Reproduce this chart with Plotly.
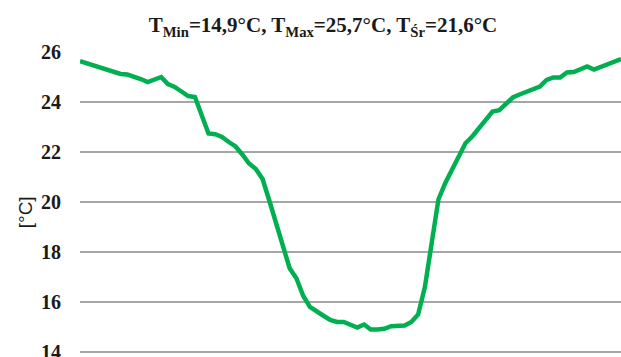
import plotly.graph_objects as go

# Temperature readings (°C), equally spaced samples
temps = [25.63, 25.55, 25.45, 25.35, 25.30, 25.22, 25.12, 25.10, 25.02, 24.92,
         24.80, 24.90, 25.00, 24.72, 24.60, 24.42, 24.24, 24.20, 23.40, 22.74,
         22.71, 22.60, 22.40, 22.22, 21.90, 21.54, 21.32, 20.92, 20.05, 19.10,
         18.20, 17.35, 16.95, 16.25, 15.80, 15.65, 15.45, 15.28, 15.20, 15.20,
         15.08, 14.98, 15.10, 14.90, 14.90, 14.93, 15.03, 15.03, 15.06, 15.20,
         15.50, 16.60, 18.50, 20.10, 20.75, 21.30, 21.80, 22.35, 22.62, 22.95,
         23.30, 23.62, 23.67, 23.90, 24.18, 24.30, 24.40, 24.50, 24.62, 24.88,
         24.98, 24.98, 25.18, 25.20, 25.30, 25.42, 25.30, 25.40, 25.50, 25.60,
         25.72]
samples = list(range(len(temps)))
y_ticks = [14, 16, 18, 20, 22, 24, 26]
title_text = "T<sub>Min</sub>=14,9°C, T<sub>Max</sub>=25,7°C, T<sub>Śr</sub>=21,6°C"
y_title = "[°C]"

fig = go.Figure()
fig.add_trace(go.Scatter(x=samples, y=temps, mode="lines",
                         line=dict(color="#00b050", width=4.5),
                         hoverinfo="skip", showlegend=False))

fig.update_layout(
    width=621, height=357,
    margin=dict(l=80, r=0, t=52, b=1, autoexpand=False),
    paper_bgcolor="white", plot_bgcolor="white",
    title=dict(text="<b>" + title_text + "</b>", x=323 / 621, xanchor="center",
               y=0.93, yanchor="middle",
               font=dict(family="Liberation Serif", size=21, color="#1a1a1a")),
    xaxis=dict(range=[0, len(temps) - 1], showgrid=False, zeroline=False,
               showticklabels=False, showline=False, ticks="", automargin=False),
    yaxis=dict(range=[13.84, 26], tickvals=y_ticks,
               ticktext=["<b>%d</b>" % v for v in y_ticks],
               showgrid=True, gridcolor="#a6a6a6", gridwidth=1.5,
               zeroline=False, showline=False, ticks="", automargin=False,
               ticklabelstandoff=18, ticklabeloverflow="allow",
               tickfont=dict(family="Liberation Serif", size=20, color="#1a1a1a")),
    annotations=[dict(text=y_title, xref="paper", yref="paper",
                      x=(25 - 80) / 541, y=(212 - 355.75) / -304,
                      xanchor="center", yanchor="middle", textangle=-90,
                      showarrow=False,
                      font=dict(family="Liberation Sans", size=19, color="#1a1a1a"))],
)

fig.write_html("out.html")
